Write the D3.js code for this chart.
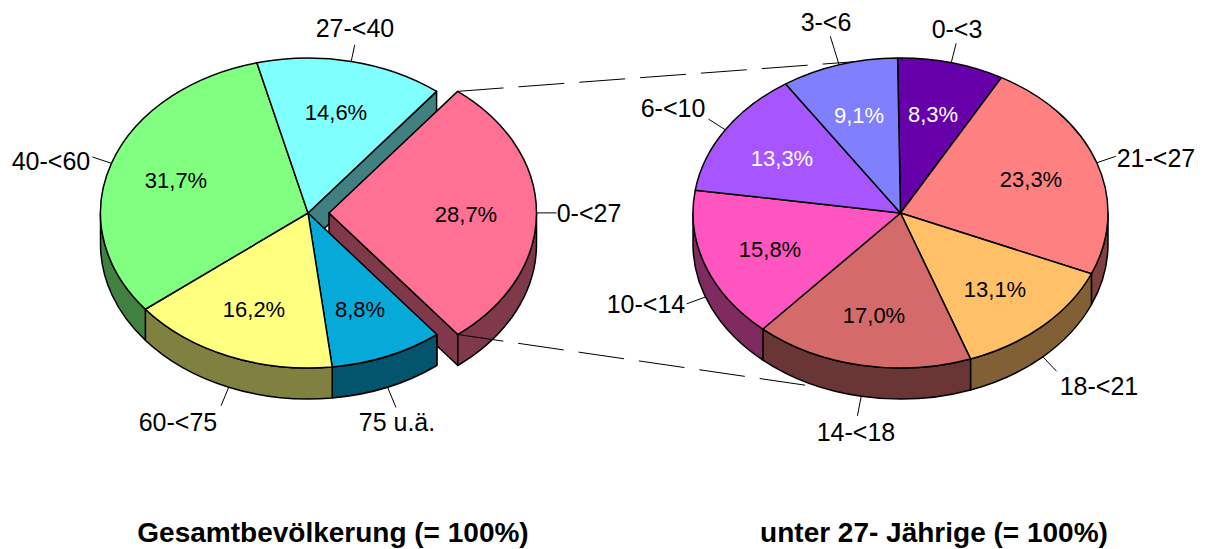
<!DOCTYPE html>
<html>
<head>
<meta charset="utf-8">
<script src="https://cdn.jsdelivr.net/npm/d3@7"></script>
<style>
  html, body { margin: 0; padding: 0; background: #fff; }
  svg { display: block; }
  text { font-family: "Liberation Sans", Arial, sans-serif; fill: #000; }
</style>
</head>
<body>
<div id="chart-container"></div>
<script>
// Data: whole population
const totalCategories = ["0-<27", "75 u.ä.", "60-<75", "40-<60", "27-<40"];
const totalValues = [28.7, 8.8, 16.2, 31.7, 14.6];
const totalColors = ["#ff7095", "#06aad9", "#ffff80", "#80ff80", "#80ffff"];

// Data: under 27 year olds
const youngCategories = ["0-<3", "21-<27", "18-<21", "14-<18", "10-<14", "6-<10", "3-<6"];
const youngValues = [8.3, 23.3, 13.1, 17.0, 15.8, 13.3, 9.1];
const youngColors = ["#6600a8", "#ff8080", "#ffc068", "#d46a6a", "#ff55c0", "#a655ff", "#8080ff"];

const titles = ["Gesamtbevölkerung (= 100%)", "unter 27- Jährige (= 100%)"];

// Layout, kept apart from the values
const width = 1205, height = 549;
const rx = 207.5, ry = 155, depth = 31;
const deg = Math.PI / 180;
const explode = 21;

// name label: x centre, baseline. percent label: x centre, baseline
const totalLayout = {
  cx: 308, cy: 213, start: 38.3 * deg,
  names: [[589, 222], [397, 431], [178, 431], [51, 170], [355, 37]],
  pcts: [[466, 222], [360, 317], [254, 317], [176, 188], [336, 120]],
  leader: [20, 22, 20, 20, 17],
  white: []
};
const youngLayout = {
  cx: 900.5, cy: 213, start: -0.8 * deg,
  names: [[957, 38], [1156, 167], [1099, 395], [856, 441], [646, 313], [673, 117], [826, 31]],
  pcts: [[933, 122], [1031, 187], [995, 297], [874, 323], [770, 257], [782, 166], [859, 123]],
  leader: [20, 20, 20, 20, 20, 20, 30],
  white: [0, 5, 6]
};

const svg = d3.select("#chart-container").append("svg")
  .attr("width", width)
  .attr("height", height);

// point on the tilted rim, angle measured clockwise from the top
function rim(cx, cy, a) {
  return [cx + rx * Math.sin(a), cy - ry * Math.cos(a)];
}

function topPath(cx, cy, a0, a1) {
  const p0 = rim(cx, cy, a0), p1 = rim(cx, cy, a1);
  const large = a1 - a0 > Math.PI ? 1 : 0;
  return `M${cx},${cy}L${p0}A${rx},${ry} 0 ${large} 1 ${p1}Z`;
}

// outer wall, only the part facing the viewer (lower half of the ellipse)
function wallPath(cx, cy, a0, a1) {
  const turn = 2 * Math.PI;
  let from = a0, to = a1;
  while (to > turn) { from -= turn; to -= turn; }
  from = Math.max(from, Math.PI / 2);
  to = Math.min(to, 3 * Math.PI / 2);
  if (to <= from) return null;
  const p0 = rim(cx, cy, from), p1 = rim(cx, cy, to);
  return `M${p0}A${rx},${ry} 0 0 1 ${p1}L${p1[0]},${p1[1] + depth}A${rx},${ry} 0 0 0 ${p0[0]},${p0[1] + depth}Z`;
}

// cut face going from the pie centre to the rim
function facePath(cx, cy, a) {
  const p = rim(cx, cy, a);
  return `M${cx},${cy}L${p}L${p[0]},${p[1] + depth}L${cx},${cy + depth}Z`;
}

function wallColor(c) {
  const r = d3.rgb(c);
  return d3.rgb(r.r / 2, r.g / 2, r.b / 2);
}

function slices(values, start) {
  return d3.pie().sort(null).value(d => d)
    .startAngle(start).endAngle(start + 2 * Math.PI)(values);
}

const edge = { stroke: "#000", "stroke-width": 1.5, "stroke-linejoin": "round" };
function styled(sel, fill) {
  sel.attr("fill", fill);
  Object.entries(edge).forEach(([k, v]) => sel.attr(k, v));
  return sel;
}

function drawLabels(categories, values, arcs, layout, offsets) {
  const mid = i => (arcs[i].startAngle + arcs[i].endAngle) / 2;
  categories.forEach((name, i) => {
    const a = mid(i), dx = offsets(i);
    let p = rim(layout.cx + dx, layout.cy, a);
    // leader starts at the bottom of the wall on the front half
    const front = Math.cos(a) < -0.1;
    if (front) p = [p[0], p[1] + depth];
    svg.append("line")
      .attr("x1", p[0]).attr("y1", p[1])
      .attr("x2", p[0] + layout.leader[i] * Math.sin(a))
      .attr("y2", p[1] - layout.leader[i] * Math.cos(a))
      .attr("stroke", "#000").attr("stroke-width", 1);
    svg.append("text")
      .attr("x", layout.names[i][0]).attr("y", layout.names[i][1])
      .attr("text-anchor", "middle")
      .style("font-size", "25px")
      .text(name);
    svg.append("text")
      .attr("x", layout.pcts[i][0]).attr("y", layout.pcts[i][1])
      .attr("text-anchor", "middle")
      .style("font-size", "22px")
      .style("fill", layout.white.includes(i) ? "#fff" : "#000")
      .text(d3.format(".1f")(values[i]).replace(".", ",") + "%");
  });
}

// --- left pie, first slice pulled out to the right
const totalArcs = slices(totalValues, totalLayout.start);
const L = totalLayout;
const px = L.cx + explode;

// faces seen through the gap go first, the blue slice hides their lower parts
styled(svg.append("path"), wallColor(totalColors[4])).attr("d", facePath(L.cx, L.cy, totalArcs[0].startAngle));
styled(svg.append("path"), wallColor(totalColors[0])).attr("d", facePath(px, L.cy, totalArcs[0].endAngle));

totalArcs.forEach((d, i) => {
  const wall = wallPath(i === 0 ? px : L.cx, L.cy, d.startAngle, d.endAngle);
  if (wall) styled(svg.append("path"), wallColor(totalColors[i])).attr("d", wall);
});
totalArcs.forEach((d, i) => {
  styled(svg.append("path"), totalColors[i])
    .attr("d", topPath(i === 0 ? px : L.cx, L.cy, d.startAngle, d.endAngle));
});
// end of the blue slice where it was cut
const cut = rim(L.cx, L.cy, totalArcs[1].startAngle);
svg.append("line")
  .attr("x1", cut[0]).attr("y1", cut[1])
  .attr("x2", cut[0]).attr("y2", cut[1] + depth)
  .attr("stroke", "#000").attr("stroke-width", 1.5);

// --- dashed connectors, right pie is drawn over their ends
const Y = youngLayout;
const c0 = rim(px, L.cy, totalArcs[0].startAngle);
const c1 = rim(px, L.cy, totalArcs[0].endAngle);
const t0 = rim(Y.cx, Y.cy, -12.3 * deg);
const t1 = rim(Y.cx, Y.cy, 206.7 * deg);
[[c0, t0, 0], [c1, t1, depth + 3]].forEach(([a, b, drop]) => {
  svg.append("line")
    .attr("x1", a[0]).attr("y1", a[1])
    .attr("x2", b[0]).attr("y2", b[1] + drop)
    .attr("stroke", "#000").attr("stroke-width", 1)
    .attr("stroke-dasharray", "46 15");
});

// --- right pie
const youngArcs = slices(youngValues, Y.start);
youngArcs.forEach((d, i) => {
  const wall = wallPath(Y.cx, Y.cy, d.startAngle, d.endAngle);
  if (wall) styled(svg.append("path"), wallColor(youngColors[i])).attr("d", wall);
});
youngArcs.forEach((d, i) => {
  styled(svg.append("path"), youngColors[i]).attr("d", topPath(Y.cx, Y.cy, d.startAngle, d.endAngle));
});

drawLabels(totalCategories, totalValues, totalArcs, L, i => i === 0 ? explode : 0);
drawLabels(youngCategories, youngValues, youngArcs, Y, () => 0);

// titles under each pie
[333, 934].forEach((x, i) => {
  svg.append("text")
    .attr("x", x).attr("y", 542)
    .attr("text-anchor", "middle")
    .style("font-size", "28px")
    .style("font-weight", "bold")
    .text(titles[i]);
});
</script>
</body>
</html>
